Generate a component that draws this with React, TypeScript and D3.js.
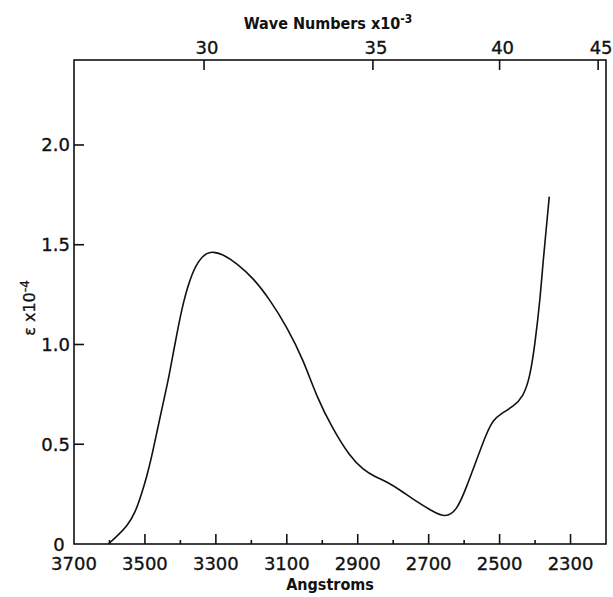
import React from "react";
import * as d3 from "d3";

const wavelengths = [3603, 3580, 3551, 3528, 3509, 3495, 3481, 3467, 3453, 3434, 3420, 3406, 3392, 3373, 3350, 3326, 3307, 3279, 3241, 3194, 3147, 3100, 3053, 3016, 2970, 2922, 2884, 2851, 2818, 2781, 2734, 2687, 2654, 2621, 2593, 2565, 2537, 2518, 2495, 2462, 2433, 2414, 2400, 2386, 2377, 2367, 2360];
const epsilon = [0, 0.037, 0.087, 0.154, 0.254, 0.337, 0.438, 0.555, 0.672, 0.822, 0.96, 1.09, 1.21, 1.33, 1.42, 1.46, 1.465, 1.451, 1.407, 1.332, 1.223, 1.089, 0.922, 0.738, 0.575, 0.438, 0.371, 0.337, 0.312, 0.271, 0.212, 0.162, 0.132, 0.165, 0.287, 0.421, 0.555, 0.622, 0.655, 0.688, 0.738, 0.839, 1.006, 1.223, 1.424, 1.607, 1.741];

const bottomMajor = [3700, 3500, 3300, 3100, 2900, 2700, 2500, 2300];
const bottomMinor = [3600, 3400, 3200, 3000, 2800, 2600, 2400];
const leftTicks = [0.5, 1.0, 1.5, 2.0];
const leftLabels = ["0.5", "1.0", "1.5", "2.0"];
const topTicks = [30, 35, 40, 45];

const W = 613;
const H = 597;
const L = 74, R = 606, T = 60, B = 544;

export default function App() {
  const x = d3.scaleLinear().domain([3700, 2200]).range([L, R]);
  const y = d3.scaleLinear().domain([0, 2.426]).range([B, T]);
  const pts: [number, number][] = wavelengths.map((w, i) => [w, epsilon[i]]);
  const line = d3
    .line<[number, number]>()
    .x((d) => x(d[0]))
    .y((d) => y(d[1]))
    .curve(d3.curveBasis);
  const font = "'DejaVu Sans', sans-serif";
  return (
    <svg
      width={W}
      height={H}
      style={{ position: "absolute", left: 0, top: 0, background: "#fff" }}
    >
      <rect x={0} y={0} width={W} height={H} fill="#fff" />
      <rect x={L} y={T} width={R - L} height={B - T} fill="none" stroke="#111" strokeWidth={1.6} />
      {bottomMajor.slice(1).map((v) => (
        <line key={"bm" + v} x1={x(v)} x2={x(v)} y1={B} y2={B - 10} stroke="#111" strokeWidth={1.6} />
      ))}
      {bottomMinor.map((v) => (
        <line key={"bn" + v} x1={x(v)} x2={x(v)} y1={B} y2={B - 4} stroke="#111" strokeWidth={1.6} />
      ))}
      {bottomMajor.map((v) => (
        <text key={"bl" + v} x={x(v)} y={570} textAnchor="middle" fontFamily={font} fontSize={18} fill="#111" stroke="#111" strokeWidth={0.35}>
          {v}
        </text>
      ))}
      {leftTicks.map((v) => (
        <line key={"lt" + v} x1={L} x2={L + 10} y1={y(v)} y2={y(v)} stroke="#111" strokeWidth={1.6} />
      ))}
      {leftTicks.map((v, i) => (
        <text key={"ll" + v} x={70} y={y(v) + 6.5} textAnchor="end" fontFamily={font} fontSize={18} fill="#111" stroke="#111" strokeWidth={0.35}>
          {leftLabels[i]}
        </text>
      ))}
      <text x={59} y={y(0) + 7} textAnchor="middle" fontFamily={font} fontSize={18} fill="#111" stroke="#111" strokeWidth={0.35}>
        0
      </text>
      {topTicks.map((v) => (
        <line key={"tt" + v} x1={x(1e8 / (v * 1000))} x2={x(1e8 / (v * 1000))} y1={T} y2={T + 10} stroke="#111" strokeWidth={1.6} />
      ))}
      {topTicks.map((v) => (
        <text key={"tl" + v} x={x(1e8 / (v * 1000)) + 3} y={54} textAnchor="middle" fontFamily={font} fontSize={18} fill="#111" stroke="#111" strokeWidth={0.35}>
          {v}
        </text>
      ))}
      <text x={328} y={29} textAnchor="middle" fontFamily="'DejaVu Sans Condensed', 'DejaVu Sans', sans-serif" fontWeight="bold" fontSize={16} fill="#111">
        Wave Numbers x10
        <tspan dy={-6} fontSize={12}>-3</tspan>
      </text>
      <text x={330} y={590} textAnchor="middle" fontFamily="'DejaVu Sans Condensed', 'DejaVu Sans', sans-serif" fontWeight="bold" fontSize={16} fill="#111">
        Angstroms
      </text>
      <text transform="translate(35,308) rotate(-90)" textAnchor="middle" fontFamily={font} fontSize={16} fill="#111" stroke="#111" strokeWidth={0.3}>
        ε x10
        <tspan dy={-6} fontSize={12}>-4</tspan>
      </text>
      <path d={line(pts) || ""} fill="none" stroke="#111" strokeWidth={1.6} />
    </svg>
  );
}
